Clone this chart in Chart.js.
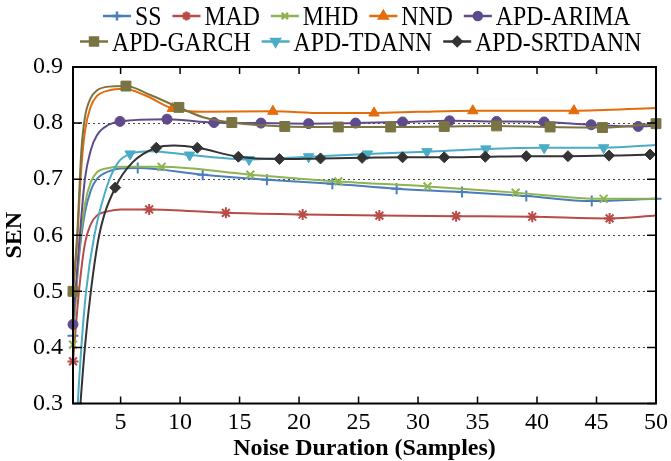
<!DOCTYPE html>
<html>
<head>
<meta charset="utf-8">
<script src="https://cdn.jsdelivr.net/npm/chart.js@4.4.1/dist/chart.umd.min.js"></script>
<style>
  html, body { margin: 0; padding: 0; background: #fff; }
</style>
</head>
<body>
<canvas id="myChart" width="671" height="461"></canvas>
<script>
// axis ticks
const xTicks = [5, 10, 15, 20, 25, 30, 35, 40, 45, 50];
const yTicks = [0.3, 0.4, 0.5, 0.6, 0.7, 0.8, 0.9];

// SS
const ssX = [1, 1.5, 2, 2.5, 3, 4, 5, 6.44, 11.9, 17.3, 22.8, 28.2, 33.7, 39.1, 44.6, 50];
const ssY = [0.421, 0.56, 0.64, 0.68, 0.70, 0.714, 0.719, 0.720, 0.708, 0.699, 0.692, 0.683, 0.677, 0.670, 0.661, 0.665];
const ssMarks = [1, 6.44, 11.9, 17.3, 22.8, 28.2, 33.7, 39.1, 44.6, 50];

// MAD
const madX = [1, 1.5, 2, 2.5, 3, 4, 5, 7.4, 13.85, 20.3, 26.75, 33.2, 39.6, 46.1, 50];
const madY = [0.375, 0.50, 0.585, 0.62, 0.635, 0.643, 0.646, 0.646, 0.640, 0.637, 0.635, 0.634, 0.633, 0.630, 0.635];
const madMarks = [1, 7.4, 13.85, 20.3, 26.75, 33.2, 39.6, 46.1];

// MHD
const mhdX = [1, 1.5, 2, 2.5, 3, 4, 5, 8.45, 15.9, 23.3, 30.8, 38.2, 45.6, 50];
const mhdY = [0.405, 0.57, 0.655, 0.695, 0.712, 0.72, 0.722, 0.722, 0.708, 0.696, 0.687, 0.676, 0.665, 0.665];
const mhdMarks = [1, 8.45, 15.9, 23.3, 30.8, 38.2, 45.6];

// NND
const nndX = [1, 1.35, 1.7, 2, 2.5, 3, 4, 5.3, 7, 9.35, 12, 17.8, 22, 26.3, 30, 34.6, 43.1, 50];
const nndY = [0.5, 0.59, 0.72, 0.785, 0.83, 0.848, 0.858, 0.861, 0.85, 0.826, 0.82, 0.821, 0.818, 0.818, 0.82, 0.822, 0.822, 0.827];
const nndMarks = [1, 9.35, 17.8, 26.3, 34.6, 43.1];

// APD-ARIMA
const arimaX = [1, 1.5, 2, 2.5, 3, 4, 4.95, 8.9, 12.85, 16.8, 20.8, 24.75, 28.7, 32.65, 36.6, 40.6, 44.55, 48.5, 50];
const arimaY = [0.441, 0.58, 0.70, 0.752, 0.778, 0.797, 0.803, 0.807, 0.801, 0.800, 0.799, 0.800, 0.802, 0.804, 0.803, 0.802, 0.797, 0.794, 0.795];
const arimaMarks = [1, 4.95, 8.9, 12.85, 16.8, 20.8, 24.75, 28.7, 32.65, 36.6, 40.6, 44.55, 48.5];

// APD-GARCH
const garchX = [1, 1.35, 1.7, 2, 2.5, 3, 4, 5.45, 7.5, 9.9, 12, 14.35, 18.8, 23.3, 27.7, 32.2, 36.6, 41.1, 45.5, 50];
const garchY = [0.5, 0.6, 0.75, 0.81, 0.845, 0.858, 0.865, 0.866, 0.85, 0.828, 0.81, 0.801, 0.794, 0.793, 0.793, 0.794, 0.795, 0.793, 0.792, 0.799];
const garchMarks = [1, 5.45, 9.9, 14.35, 18.8, 23.3, 27.7, 32.2, 36.6, 41.1, 45.5, 50];

// APD-TDANN
const tdannX = [1, 1.4, 1.7, 2.1, 2.8, 3.9, 4.8, 5.8, 7.5, 10.8, 15.8, 20.8, 25.75, 30.75, 35.7, 40.6, 45.6, 50];
const tdannY = [0.12, 0.30, 0.40, 0.50, 0.60, 0.69, 0.73, 0.745, 0.75, 0.743, 0.735, 0.740, 0.745, 0.749, 0.754, 0.756, 0.756, 0.761];
const tdannMarks = [5.8, 10.8, 15.8, 20.8, 25.75, 30.75, 35.7, 40.6, 45.6];

// APD-SRTDANN
const srtX = [1, 1.63, 2, 2.5, 3.2, 4.55, 6, 8, 9.5, 11.45, 14.9, 18.35, 21.8, 25.3, 28.7, 32.2, 35.65, 39.1, 42.6, 46.05, 49.5, 50];
const srtY = [0.1, 0.3, 0.4, 0.5, 0.6, 0.685, 0.73, 0.756, 0.76, 0.756, 0.740, 0.736, 0.737, 0.738, 0.739, 0.739, 0.740, 0.741, 0.741, 0.742, 0.744, 0.745];
const srtMarks = [4.55, 8, 11.45, 14.9, 18.35, 21.8, 25.3, 28.7, 32.2, 35.65, 39.1, 42.6, 46.05, 49.5];

const FONT = '"Liberation Serif", "Times New Roman", serif';
Chart.defaults.font.family = FONT;
Chart.defaults.color = '#000';

function series(label, xs, ys, marks, color, style, radius, rotation) {
  const thin = style === 'cross' || style === 'crossRot' || style === 'star';
  return {
    label: label,
    data: xs.map((x, i) => ({x: x, y: ys[i]})),
    borderColor: color,
    backgroundColor: color,
    borderWidth: 2,
    cubicInterpolationMode: 'monotone',
    clip: {left: 8, right: 8, top: 6, bottom: 0},
    pointStyle: style,
    rotation: rotation || 0,
    pointRadius: ctx => marks.includes(ctx.raw.x) ? radius : 0,
    pointHoverRadius: 0,
    pointBackgroundColor: color,
    pointBorderColor: color,
    pointBorderWidth: thin ? 2 : 1,
    legendRadius: radius * 0.8
  };
}

const datasets = [
  series('SS', ssX, ssY, ssMarks, '#4a7ebb', 'cross', 5.5),
  series('MAD', madX, madY, madMarks, '#b84a47', 'star', 5.5),
  series('MHD', mhdX, mhdY, mhdMarks, '#8fb350', 'crossRot', 5.5),
  series('NND', nndX, nndY, nndMarks, '#e46c0a', 'triangle', 6),
  series('APD-ARIMA', arimaX, arimaY, arimaMarks, '#5f4b8b', 'circle', 5),
  series('APD-GARCH', garchX, garchY, garchMarks, '#7a7443', 'rect', 7),
  series('APD-TDANN', tdannX, tdannY, tdannMarks, '#4bacc6', 'triangle', 6, 180),
  series('APD-SRTDANN', srtX, srtY, srtMarks, '#333333', 'rectRot', 5.5)
];
// later series drawn on top
datasets.forEach((d, i) => { d.order = datasets.length - i; });

const legendRows = [[0, 1, 2, 3, 4], [5, 6, 7]];
const legendStart = [103, 80];
const legendY = [16, 41.5];

// legend: short line with the marker on it, then the label
const lineLegend = {
  id: 'lineLegend',
  afterDraw(chart) {
    const ctx = chart.ctx;
    const squeeze = 0.88;
    ctx.save();
    ctx.font = '27px ' + FONT;
    ctx.textBaseline = 'middle';
    legendRows.forEach((row, r) => {
      let x = legendStart[r];
      const y = legendY[r];
      row.forEach(i => {
        const ds = chart.data.datasets[i];
        ctx.strokeStyle = ds.borderColor;
        ctx.fillStyle = ds.borderColor;
        ctx.lineWidth = 2.5;
        ctx.beginPath();
        ctx.moveTo(x, y);
        ctx.lineTo(x + 28, y);
        ctx.stroke();
        Chart.helpers.drawPoint(ctx, {
          pointStyle: ds.pointStyle,
          rotation: ds.rotation,
          radius: ds.legendRadius,
          borderWidth: ds.pointBorderWidth
        }, x + 14, y);
        ctx.fillStyle = '#000';
        ctx.save();
        ctx.translate(x + 32, y + 2);
        ctx.scale(squeeze, 1);
        ctx.fillText(ds.label, 0, 0);
        ctx.restore();
        x += 32 + ctx.measureText(ds.label).width * squeeze + 11;
      });
    });
    ctx.restore();
  }
};

const frame = {
  id: 'frame',
  afterDatasetsDraw(chart) {
    const {ctx, chartArea: a, scales: {x, y}} = chart;
    ctx.save();
    ctx.strokeStyle = '#000';
    ctx.lineWidth = 1.5;
    ctx.beginPath();
    xTicks.forEach(v => {
      const px = x.getPixelForValue(v);
      ctx.moveTo(px, a.bottom); ctx.lineTo(px, a.bottom - 7);
      ctx.moveTo(px, a.top); ctx.lineTo(px, a.top + 7);
    });
    yTicks.forEach(v => {
      const py = y.getPixelForValue(v);
      ctx.moveTo(a.left, py); ctx.lineTo(a.left + 9, py);
      ctx.moveTo(a.right, py); ctx.lineTo(a.right - 9, py);
    });
    ctx.stroke();
    ctx.lineWidth = 2;
    ctx.strokeRect(a.left, a.top, a.width, a.height);
    ctx.restore();
  }
};

new Chart(document.getElementById('myChart'), {
  type: 'line',
  data: { datasets: datasets },
  plugins: [lineLegend, frame],
  options: {
    responsive: false,
    animation: false,
    layout: { padding: { top: 67, right: 15, left: 0, bottom: 0 } },
    plugins: {
      legend: { display: false },
      tooltip: { enabled: false }
    },
    scales: {
      x: {
        type: 'linear',
        min: 1,
        max: 50,
        afterBuildTicks: s => { s.ticks = xTicks.map(v => ({value: v})); },
        afterFit: s => { s.height = 57.5; },
        ticks: { font: { size: 24 }, padding: -3, maxRotation: 0, callback: v => String(v) },
        grid: { display: false },
        border: { display: false },
        title: {
          display: true,
          text: 'Noise Duration (Samples)',
          font: { size: 24, weight: 'bold' },
          padding: { top: 0, bottom: -2 }
        }
      },
      y: {
        min: 0.3,
        max: 0.9,
        afterBuildTicks: s => { s.ticks = yTicks.map(v => ({value: v})); },
        afterFit: s => { s.width = 73; },
        ticks: { font: { size: 24 }, padding: 10, callback: v => v.toFixed(1) },
        grid: {
          drawTicks: false,
          lineWidth: 1,
          color: c => (c.tick && (Math.abs(c.tick.value - 0.3) < 1e-6 || Math.abs(c.tick.value - 0.9) < 1e-6)) ? 'rgba(0,0,0,0)' : '#444'
        },
        border: { display: false, dash: [2, 3] },
        title: {
          display: true,
          text: 'SEN',
          font: { size: 24, weight: 'bold' },
          padding: { top: 0, bottom: 0 }
        }
      }
    }
  }
});
</script>
</body>
</html>
